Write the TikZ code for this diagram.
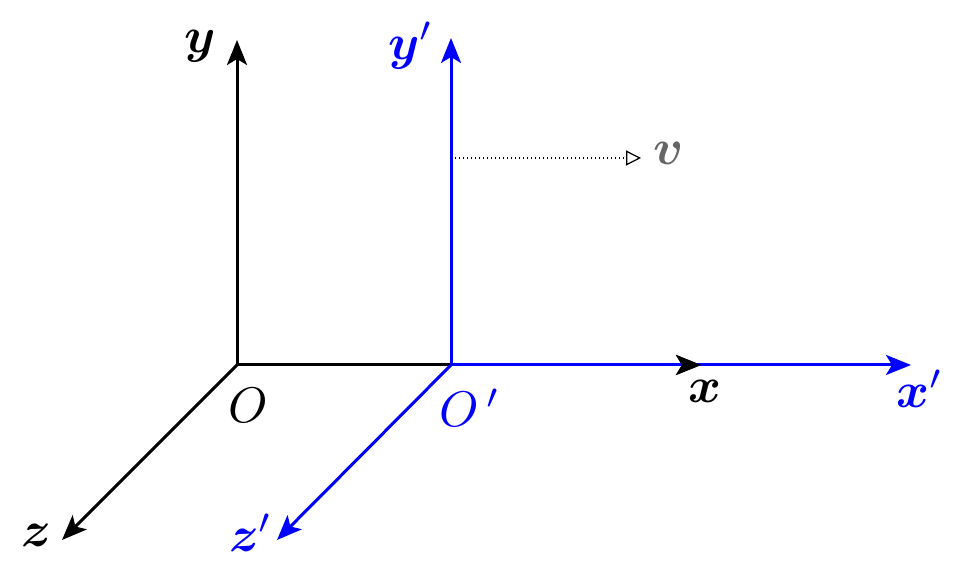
\documentclass[tikz,border=0pt]{standalone}
\usepackage{amsmath,bm}
\usetikzlibrary{arrows.meta}
\begin{document}
\begin{tikzpicture}[x=0.2pt,y=-0.2pt,
  tipstyle/.style={-{Stealth[length=5pt,width=4pt,inset=1.2pt]}},
  axis/.style={line width=0.6pt,tipstyle},
  lbl/.style={inner sep=0pt,font=\normalsize}]
\useasboundingbox (0,0) rectangle (959,568);
\coordinate (O) at (237,365);
\coordinate (Oy) at (237,40);
\coordinate (Ox) at (701,365);
\coordinate (Oz) at (62,540);
\coordinate (P) at (451,365);
\coordinate (Py) at (451,38);
\coordinate (Px) at (911,365);
\coordinate (Pz) at (277,540);
\coordinate (V0) at (451,158);
\coordinate (V1) at (641,158);
% black frame
\draw[axis,black] (O) -- (Oy);
\draw[axis,black] (O) -- (Ox);
\draw[axis,black] (O) -- (Oz);
% blue frame
\draw[axis,blue] (P) -- (Py);
\draw[axis,blue] (P) -- (Px);
\draw[axis,blue] (P) -- (Pz);
\draw[axis,black] ([xshift=-1pt]Ox) -- (Ox);
% velocity
\draw[dash pattern=on 0.25pt off 0.55pt,line width=0.25pt,-{Triangle[open,length=3pt,width=3pt]}] (V0) -- (V1);
% labels
\node[lbl] (ly) at (200,46) {$\bm{y}$};
\node[lbl,text=blue] (lyp) at (411,46) {$\bm{y}'$};
\node[lbl,text=black!60] (lv) at (669,153) {$\bm{v}$};
\node[lbl] (lx) at (705,391) {$\bm{x}$};
\node[lbl,text=blue] (lxp) at (920,389) {$\bm{x}'$};
\node[lbl] (lO) at (248,405) {$O$};
\node[lbl,text=blue] (lOp) at (470,408) {$O\,'$};
\node[lbl] (lz) at (36,535) {$\bm{z}$};
\node[lbl,text=blue] (lzp) at (251,533) {$\bm{z}'$};
\end{tikzpicture}
\end{document}
